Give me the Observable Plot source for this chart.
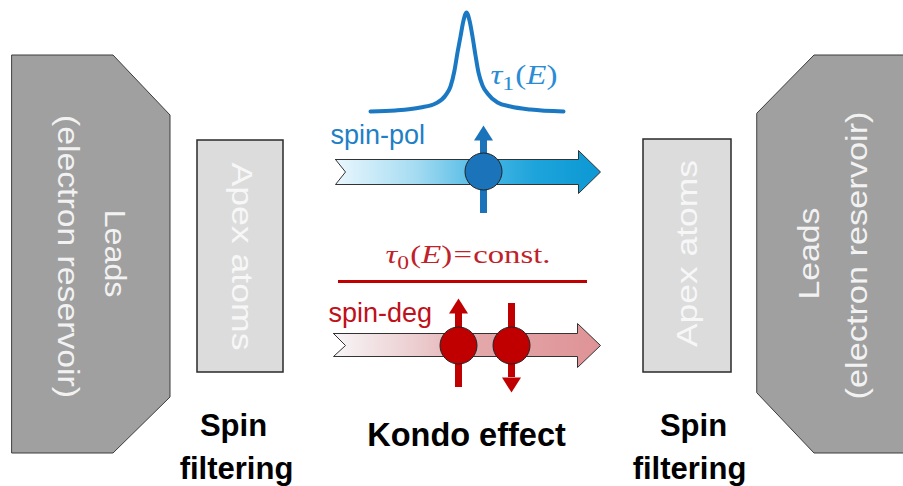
<!DOCTYPE html>
<html><head><meta charset="utf-8">
<script src="https://cdn.jsdelivr.net/npm/d3@7"></script>
<script src="https://cdn.jsdelivr.net/npm/@observablehq/plot@0.6"></script>
<style>html,body{margin:0;padding:0;background:#fff} svg{display:block}</style>
</head><body><div id="chart"></div>
<script>
// ---- Leads (outline: x breakpoints, top edge, bottom edge) ----
const leadLeftX = [12, 113, 170];
const leadLeftTop = [55, 55, 115];
const leadLeftBottom = [453, 453, 397];
const leadRightX = [757, 814, 915];
const leadRightTop = [113, 55, 55];
const leadRightBottom = [393, 453, 453];

// ---- Apex atom boxes ----
const apexX1 = [197, 643];
const apexX2 = [283, 731];
const apexY1 = [140, 139];
const apexY2 = [372, 372];

// ---- rotated labels ----
const vLabels = ["Leads", "(electron reservoir)", "Apex atoms", "Leads", "(electron reservoir)", "Apex atoms"];
const vLabelX = [114, 67, 241, 809, 857, 687];
const vLabelY = [253, 256, 256, 253, 255, 253];
const vLabelRotate = [90, 90, 90, -90, -90, -90];
const vLabelLength = [88, 283, 188, 92, 288, 187];
const vLabelColor = ["#f2f2f2", "#f2f2f2", "#f7f7f7", "#f2f2f2", "#f2f2f2", "#f7f7f7"];

// ---- transmission curve tau_1(E) ----
const curveX = [370, 395, 420, 435, 445, 450, 454, 457, 460, 463, 466, 469, 472, 475, 478, 482, 487, 497, 510, 530, 563];
const curveY = [111, 110, 107, 103, 95, 86, 70, 52, 36, 20, 12, 20, 36, 55, 72, 85, 93, 102, 106, 109, 111];

// ---- constant tau_0 line ----
const constLineX = [338, 587];
const constLineY = 281;

// ---- big flow arrows ----
const arrowNames = ["pol", "deg"];
const arrowTail = [335, 333];
const arrowNotch = [345, 345];
const arrowHeadStart = [578, 577];
const arrowTip = [600, 600];
const arrowBodyTop = [159, 333];
const arrowBodyBottom = [184, 356];
const arrowHeadTop = [150, 323];
const arrowHeadBottom = [193, 367];
const arrowGradient = ["url(#gradPol)", "url(#gradDeg)"];

// ---- electrons with spins ----
const electronX = [483, 458, 511];
const electronY = [171, 345, 345];
const electronFill = ["#1b73ba", "#c00000", "#c00000"];
const spinFrom = [213, 387, 303];
const spinTo = [125, 298, 392];

// ---- other texts ----
const labels = ["spin-pol", "spin-deg", "Spin", "filtering", "Kondo effect", "Spin", "filtering"];
const labelX = [330, 328, 233, 236, 466, 693, 689];
const labelY = [143, 321, 435, 478, 445, 435, 478];
const labelAnchor = ["start", "start", "middle", "middle", "middle", "middle", "middle"];
const labelColor = ["#1f7fc6", "#c0101a", "#000", "#000", "#000", "#000", "#000"];
const labelWeight = ["normal", "normal", "bold", "bold", "bold", "bold", "bold"];
const labelSize = [27, 27, 31, 31, 32.5, 31, 31];

const mathLabels = ["τ1(E)", "τ0(E)=const."];
const mathX = [490, 385];
const mathY = [83, 262];
const mathColor = ["#2a8cd4", "#c0222a"];
const mathSize = [27, 25];
const mathLength = [67, 165];

// ---- build geometry tables from the arrays ----
const leads = [
  ...leadLeftX.map((x, i) => ({side: "L", x, y1: leadLeftTop[i], y2: leadLeftBottom[i]})),
  ...leadRightX.map((x, i) => ({side: "R", x, y1: leadRightTop[i], y2: leadRightBottom[i]}))
];
const apex = apexX1.map((x1, i) => ({x1, x2: apexX2[i], y1: apexY1[i], y2: apexY2[i]}));
const curve = curveX.map((x, i) => ({x, y: curveY[i]}));

const arrowPts = [];
arrowNames.forEach((n, i) => {
  const c = (arrowHeadTop[i] + arrowHeadBottom[i]) / 2;
  const pts = [
    [arrowTail[i], arrowBodyTop[i]], [arrowHeadStart[i], arrowBodyTop[i]],
    [arrowHeadStart[i], arrowHeadTop[i]], [arrowTip[i], c],
    [arrowHeadStart[i], arrowHeadBottom[i]], [arrowHeadStart[i], arrowBodyBottom[i]],
    [arrowTail[i], arrowBodyBottom[i]], [arrowNotch[i], c], [arrowTail[i], arrowBodyTop[i]]
  ];
  pts.forEach(([x, y]) => arrowPts.push({n, x, y, fill: arrowGradient[i]}));
});

const headLen = 15, headHalf = 9.5;
const shafts = electronX.map((x, i) => {
  const dir = Math.sign(spinTo[i] - spinFrom[i]);
  return {x, y1: spinFrom[i], y2: spinTo[i] - dir * headLen, c: electronFill[i]};
});
const heads = [];
electronX.forEach((x, i) => {
  const dir = Math.sign(spinTo[i] - spinFrom[i]);
  const base = spinTo[i] - dir * headLen;
  [[x - headHalf, base], [x, spinTo[i]], [x + headHalf, base], [x - headHalf, base]]
    .forEach(([hx, hy]) => heads.push({k: i, x: hx, y: hy, c: electronFill[i]}));
});
const electrons = electronX.map((x, i) => ({x, y: electronY[i], c: electronFill[i]}));

const vText = vLabels.map((t, i) => ({t, x: vLabelX[i], y: vLabelY[i], r: vLabelRotate[i], c: vLabelColor[i], len: vLabelLength[i]}));
const hText = labels.map((t, i) => ({t, x: labelX[i], y: labelY[i], a: labelAnchor[i], c: labelColor[i], w: labelWeight[i], s: labelSize[i]}));

function defs() {
  const g = d3.create("svg:defs");
  const a = g.append("linearGradient").attr("id", "gradPol").attr("gradientUnits", "userSpaceOnUse")
    .attr("x1", arrowTail[0]).attr("x2", arrowTip[0]).attr("y1", 0).attr("y2", 0);
  [[0, "#eaf7fd"], [0.3, "#a6dcf2"], [0.55, "#4cb8e4"], [0.75, "#1ea4db"], [1, "#0b98d4"]]
    .forEach(([o, c]) => a.append("stop").attr("offset", o).attr("stop-color", c));
  const b = g.append("linearGradient").attr("id", "gradDeg").attr("gradientUnits", "userSpaceOnUse")
    .attr("x1", arrowTail[1]).attr("x2", arrowTip[1]).attr("y1", 0).attr("y2", 0);
  [[0, "#f7f5f7"], [0.3, "#eccfd1"], [0.55, "#e3a7aa"], [1, "#df9396"]]
    .forEach(([o, c]) => b.append("stop").attr("offset", o).attr("stop-color", c));
  return g.node();
}

const marks = [
  defs,
  Plot.areaY(leads, {x: "x", y1: "y1", y2: "y2", z: "side", fill: "#a0a0a0", stroke: "#3c3c3c", strokeWidth: 1}),
  Plot.rect(apex, {x1: "x1", x2: "x2", y1: "y1", y2: "y2", fill: "#dcdcdc", stroke: "#2a2a2a", strokeWidth: 1.5}),
  Plot.line(curve, {x: "x", y: "y", curve: "monotone-x", stroke: "#1b79c4", strokeWidth: 4}),
  Plot.ruleY([constLineY], {x1: constLineX[0], x2: constLineX[1], stroke: "#c00000", strokeWidth: 3}),
  Plot.line(arrowPts, {x: "x", y: "y", z: "n", fill: "fill", stroke: "#333", strokeWidth: 1, curve: "linear"}),
  Plot.ruleX(shafts, {x: "x", y1: "y1", y2: "y2", stroke: "c", strokeWidth: 7}),
  Plot.line(heads, {x: "x", y: "y", z: "k", fill: "c", stroke: "none"}),
  Plot.dot(electrons, {x: "x", y: "y", r: 18.5, fill: "c", stroke: "#222", strokeWidth: 1}),
  ...vText.map(d => Plot.text([d], {x: "x", y: "y", text: "t", rotate: d.r, fill: d.c, fontSize: 30,
    fontFamily: "Liberation Sans, Arial, sans-serif", textAnchor: "middle", lineAnchor: "middle",
    render(index, scales, values, dims, ctx, next) {
      const g = next(index, scales, values, dims, ctx);
      d3.select(g).selectAll("text").attr("textLength", d.len).attr("lengthAdjust", "spacingAndGlyphs");
      return g;
    }})),
  ...hText.map(d => Plot.text([d], {x: "x", y: "y", text: "t", fill: d.c, fontSize: d.s, fontWeight: d.w,
    fontFamily: "Liberation Sans, Arial, sans-serif", textAnchor: d.a, lineAnchor: "bottom"})),
  ...mathLabels.map((t, i) => Plot.text([t], {x: () => mathX[i], y: () => mathY[i], text: d => d, fill: mathColor[i],
    fontSize: mathSize[i], fontFamily: "Liberation Serif, Times New Roman, serif", textAnchor: "start", lineAnchor: "bottom"}))
];

const svg = Plot.plot({
  width: 903, height: 486, margin: 0,
  x: {domain: [0, 903], range: [0, 903], axis: null},
  y: {domain: [0, 486], range: [0, 486], axis: null},
  style: {background: "#fff", fontFamily: "Liberation Sans, Arial, sans-serif"},
  marks
});

// typeset the math labels (italic symbols, upright subscripts)
function typeset(raw, parts, len) {
  d3.select(svg).selectAll("text").filter(function () { return this.textContent === raw; }).each(function () {
    const t = d3.select(this);
    t.text(null);
    let shift = 0;
    parts.forEach(p => {
      const s = t.append("tspan").text(p.t);
      if (p.i) s.attr("font-style", "italic");
      if (p.sub) { s.attr("font-size", "72%").attr("dy", 6); shift = 6; }
      else if (shift) { s.attr("dy", -shift); shift = 0; }
      if (p.dx) s.attr("dx", p.dx);
    });
    t.attr("textLength", len).attr("lengthAdjust", "spacingAndGlyphs");
  });
}
typeset(mathLabels[0], [{t: "τ", i: 1}, {t: "1", sub: 1}, {t: "(", dx: 1}, {t: "E", i: 1}, {t: ")"}], mathLength[0]);
typeset(mathLabels[1], [{t: "τ", i: 1}, {t: "0", sub: 1}, {t: "(", dx: 1}, {t: "E", i: 1}, {t: ")"}, {t: "=", dx: 1}, {t: "const.", dx: 1}], mathLength[1]);

document.getElementById("chart").appendChild(svg);
</script>
</body></html>
